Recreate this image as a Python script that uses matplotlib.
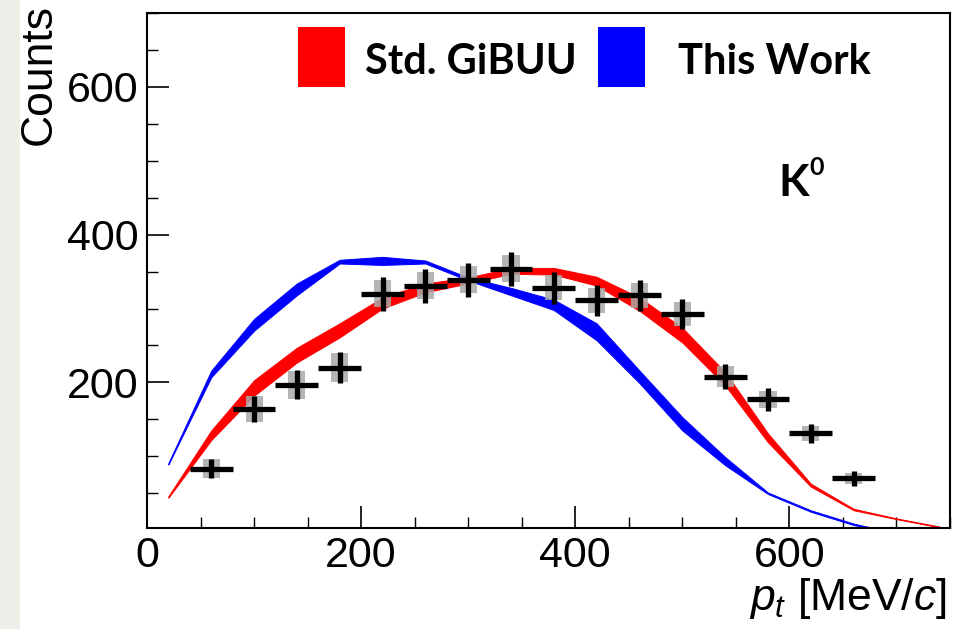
import numpy as np
import matplotlib.pyplot as plt
from matplotlib.ticker import MultipleLocator
from matplotlib.patches import Rectangle

plt.rcParams["font.family"] = "Liberation Sans"
plt.rcParams["mathtext.fontset"] = "custom"
plt.rcParams["mathtext.rm"] = "Liberation Sans"
plt.rcParams["mathtext.it"] = "Liberation Sans:italic"

"Data: measured K0 pt spectrum"
pt_data = [60, 100, 140, 180, 220, 260, 300, 340, 380, 420, 460, 500, 540, 580, 620, 660]
counts = [83, 164, 197, 220, 320, 331, 339, 354, 328, 311, 318, 293, 208, 177, 131, 70]
stat_err = [13, 17, 20, 21, 23, 23, 23, 23, 22, 21, 21, 20, 17, 15, 13, 10]
syst_err = [13, 17, 19, 20, 18, 18, 18, 18, 17, 17, 17, 16, 14, 12, 10, 8]
pt_halfbin = 20
syst_halfwidth = 8

"Model bands"
pt_model = [20, 60, 100, 140, 180, 220, 260, 300, 340, 380, 420, 460, 500, 540, 580, 620, 660, 700, 740]
std_lo = [44, 122, 182, 227, 261, 300, 322, 334, 347, 346, 331, 297, 254, 196, 119, 59, 27, 15, 4]
std_hi = [46, 135, 203, 247, 280, 315, 334, 342, 355, 355, 343, 315, 274, 214, 131, 63, 29, 16, 5]
pt_work = [20, 60, 100, 140, 180, 220, 260, 300, 340, 380, 420, 460, 500, 540, 580, 620, 660, 700]
work_lo = [89, 207, 270, 318, 361, 359, 361, 338, 318, 298, 257, 199, 135, 88, 49, 25, 7, -5]
work_hi = [91, 216, 286, 334, 366, 370, 365, 342, 328, 312, 280, 216, 153, 99, 51, 27, 9, -4]

W, H = 965, 629
fig = plt.figure(figsize=(W / 100, H / 100), dpi=100)
fig.patches.append(Rectangle((0, 0), 19 / W, 1, transform=fig.transFigure,
                             color='#eeefe9', zorder=-10))

ax = fig.add_axes([147 / W, 1 - 528 / H, (950 - 147) / W, (528 - 13) / H])

"Bands"
ax.fill_between(pt_model, std_lo, std_hi, color='red', linewidth=0.7, edgecolor='red', zorder=2)
ax.fill_between(pt_work, work_lo, work_hi, color='blue', linewidth=0.7, edgecolor='blue', zorder=2)

"Systematic boxes"
for x, y, s in zip(pt_data, counts, syst_err):
    ax.add_patch(Rectangle((x - syst_halfwidth, y - s), 2 * syst_halfwidth, 2 * s,
                           color='#a8a8a8', alpha=0.85, linewidth=0, zorder=3))

"Data crosses"
ax.errorbar(pt_data, counts, xerr=pt_halfbin, yerr=stat_err, fmt='none',
            ecolor='black', elinewidth=3.8, capsize=0, zorder=4)

ax.set_xlim(0, 750)
ax.set_ylim(3, 700)
ax.xaxis.set_major_locator(MultipleLocator(200))
ax.xaxis.set_minor_locator(MultipleLocator(50))
ax.yaxis.set_major_locator(MultipleLocator(200))
ax.yaxis.set_minor_locator(MultipleLocator(50))
ax.set_yticks([200, 400, 600])
ax.tick_params(which='major', direction='in', length=16, width=1.2, labelsize=31, pad=6)
ax.tick_params(which='minor', direction='in', length=8, width=1.0)
ax.tick_params(axis='x', pad=6)
for s in ax.spines.values():
    s.set_linewidth(1.5)

fig.text(39 / W, 1 - 4 / H, 'Counts', rotation=90, ha='center', va='top', fontsize=32)
fig.text(947 / W, 1 - 610 / H, r'$p_{t}$ [MeV/$c$]', ha='right', va='baseline', fontsize=32)

"Legend"
fig.patches.append(Rectangle((298 / W, 1 - 87 / H), 47 / W, 60 / H, transform=fig.transFigure,
                             color='red', linewidth=0, zorder=5))
fig.patches.append(Rectangle((598 / W, 1 - 87 / H), 47 / W, 60 / H, transform=fig.transFigure,
                             color='blue', linewidth=0, zorder=5))
fig.text(365 / W, 1 - 62 / H, 'Std. GiBUU', fontfamily='Lato', fontweight='bold', fontsize=30,
         va='center', ha='left', zorder=6)
fig.text(678 / W, 1 - 62 / H, 'This Work', fontfamily='Lato', fontweight='bold', fontsize=30,
         va='center', ha='left', zorder=6)
fig.text(778 / W, 1 - 196 / H, 'K', fontfamily='Lato', fontweight='bold', fontsize=32,
         va='baseline', ha='left', zorder=6)
fig.text(809 / W, 1 - 175 / H, '0', fontfamily='Lato', fontweight='bold', fontsize=18,
         va='baseline', ha='left', zorder=6)

plt.savefig('out.png', dpi=100)
